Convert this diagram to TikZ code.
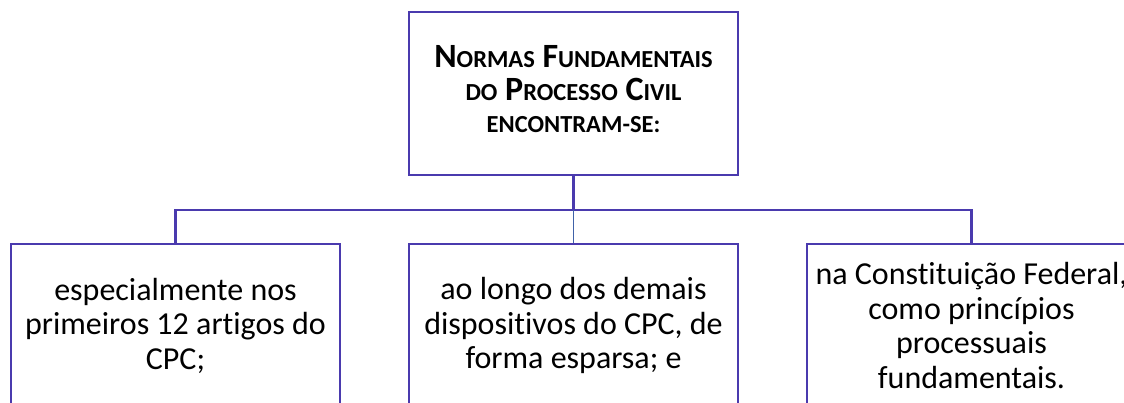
\documentclass[tikz,border=0pt]{standalone}
\usepackage{fontspec}
\setmainfont{Carlito}[Ligatures=NoCommon]
\definecolor{boxline}{HTML}{4A3AAE}
\definecolor{midline}{HTML}{4062A8}
\newcommand{\smc}[1]{{\fontsize{24.5}{32.5}\selectfont #1}}
\begin{document}
\begin{tikzpicture}[x=1pt,y=-1pt,
  box/.style={draw=boxline,line width=2.2pt,minimum width=329pt,minimum height=163pt,inner sep=0pt,align=center,text=black},
  conn/.style={draw=boxline,line width=2.2pt},
  label/.style={align=center,inner sep=0pt,text=black},
  bottomtext/.style={font=\fontsize{32}{34.5}\selectfont}]
\useasboundingbox[fill=white] (0,0) rectangle (1124,403);
\node[box] (top) at (573.5,93.5) {};
\node[label,font=\bfseries\fontsize{34}{32.5}\selectfont] (toptext) at (573.5,89.5)
  {N\smc{ORMAS} F\smc{UNDAMENTAIS}\\ \smc{DO} P\smc{ROCESSO} C\smc{IVIL}\\ \smc{ENCONTRAM-SE:}};
\node[box,bottomtext] (left) at (175.5,325.5)
  {especialmente nos\\ primeiros 12 artigos do\\ CPC;};
\node[box,bottomtext] (mid) at (573.5,325.5)
  {ao longo dos demais\\ dispositivos do CPC, de\\ forma esparsa; e};
\node[box,bottomtext] (right) at (971.5,325.5)
  {na Constituição Federal,\\ como princípios\\ processuais\\ fundamentais.};
\coordinate (hub) at (573.5,210);
\draw[conn] (top.south) -- (hub);
\draw[conn] (hub) -| (left.north);
\draw[conn] (hub) -| (right.north);
\draw[draw=midline,line width=1.5pt] (hub) -- (mid.north);
\end{tikzpicture}
\end{document}
